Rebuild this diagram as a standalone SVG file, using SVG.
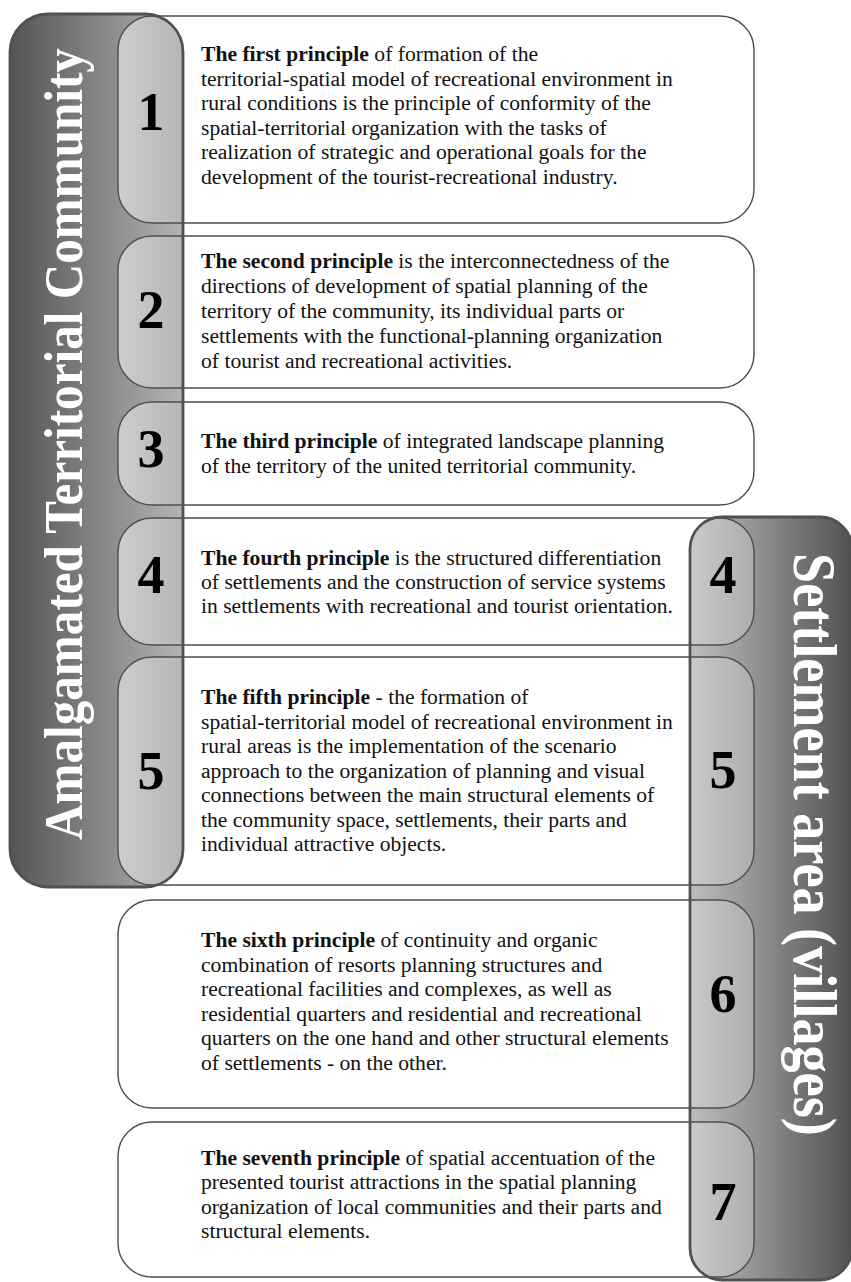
<svg xmlns="http://www.w3.org/2000/svg" width="851" height="1282" viewBox="0 0 851 1282">
<defs>
<style>
.body{font-family:"Liberation Serif","Times New Roman",serif;font-size:21.6px;fill:#111;}
.b{font-weight:bold;}
.num{font-family:"Liberation Serif","Times New Roman",serif;font-weight:bold;font-size:54px;fill:#000;text-anchor:middle;}
.bandtxt{font-family:"Liberation Serif","Times New Roman",serif;font-weight:bold;fill:#fff;}
.boxfill{fill:#fff;stroke:none;}
.boxline{fill:none;stroke:#4d4d4d;stroke-width:1.4;}
.bandline{fill:none;stroke:#505050;stroke-width:2.8;}
</style>
<linearGradient id="gL" gradientUnits="userSpaceOnUse" x1="10" y1="0" x2="183" y2="0">
<stop offset="0" stop-color="#545454"/><stop offset="1" stop-color="#b4b4b4"/>
</linearGradient>
<linearGradient id="gLp" gradientUnits="userSpaceOnUse" x1="118" y1="0" x2="183" y2="0">
<stop offset="0" stop-color="#cdcdcd"/><stop offset="1" stop-color="#b6b6b6"/>
</linearGradient>
<linearGradient id="gR" gradientUnits="userSpaceOnUse" x1="690" y1="0" x2="851" y2="0">
<stop offset="0" stop-color="#bdbdbd"/><stop offset="1" stop-color="#525252"/>
</linearGradient>
<linearGradient id="gRp" gradientUnits="userSpaceOnUse" x1="690" y1="0" x2="754" y2="0">
<stop offset="0" stop-color="#cacaca"/><stop offset="1" stop-color="#adadad"/>
</linearGradient>
<clipPath id="clipL"><rect x="10" y="14" width="173" height="873" rx="38"/></clipPath>
<clipPath id="clipR"><rect x="690" y="517" width="162" height="763" rx="32"/></clipPath>
</defs>

<g id="band-left">
<rect x="10" y="14" width="173" height="873" rx="38" fill="url(#gL)"/>
</g>
<g id="band-right">
<rect x="690" y="517" width="162" height="763" rx="32" fill="url(#gR)"/>
</g>

<g id="principle-1">
<rect class="boxfill" x="118" y="16" width="636" height="207" rx="34"/>
<rect x="118" y="16" width="636" height="207" rx="34" fill="url(#gLp)" clip-path="url(#clipL)"/>
<rect class="boxline" x="118" y="16" width="636" height="207" rx="34"/>
<text class="num" x="151" y="130">1</text>
<text class="body" x="201" y="61"><tspan class="b">The first principle</tspan> of formation of the</text>
<text class="body" x="201" y="85.5">territorial-spatial model of recreational environment in</text>
<text class="body" x="201" y="110">rural conditions is the principle of conformity of the</text>
<text class="body" x="201" y="134.5">spatial-territorial organization with the tasks of</text>
<text class="body" x="201" y="159">realization of strategic and operational goals for the</text>
<text class="body" x="201" y="183.5">development of the tourist-recreational industry.</text>
</g>

<g id="principle-2">
<rect class="boxfill" x="118" y="236" width="636" height="152" rx="34"/>
<rect x="118" y="236" width="636" height="152" rx="34" fill="url(#gLp)" clip-path="url(#clipL)"/>
<rect class="boxline" x="118" y="236" width="636" height="152" rx="34"/>
<text class="num" x="151" y="328">2</text>
<text class="body" x="201" y="268"><tspan class="b">The second principle</tspan> is the interconnectedness of the</text>
<text class="body" x="201" y="293">directions of development of spatial planning of the</text>
<text class="body" x="201" y="318">territory of the community, its individual parts or</text>
<text class="body" x="201" y="343">settlements with the functional-planning organization</text>
<text class="body" x="201" y="368">of tourist and recreational activities.</text>
</g>

<g id="principle-3">
<rect class="boxfill" x="118" y="402" width="636" height="103" rx="34"/>
<rect x="118" y="402" width="636" height="103" rx="34" fill="url(#gLp)" clip-path="url(#clipL)"/>
<rect class="boxline" x="118" y="402" width="636" height="103" rx="34"/>
<text class="num" x="151" y="467">3</text>
<text class="body" x="201" y="448"><tspan class="b">The third principle</tspan> of integrated landscape planning</text>
<text class="body" x="201" y="473">of the territory of the united territorial community.</text>
</g>

<g id="principle-4">
<rect class="boxfill" x="118" y="518" width="636" height="127" rx="34"/>
<rect x="118" y="518" width="636" height="127" rx="34" fill="url(#gLp)" clip-path="url(#clipL)"/>
<rect x="118" y="518" width="636" height="127" rx="34" fill="url(#gRp)" clip-path="url(#clipR)"/>
<rect class="boxline" x="118" y="518" width="636" height="127" rx="34"/>
<text class="num" x="151" y="593">4</text>
<text class="num" x="723" y="593">4</text>
<text class="body" x="201" y="565"><tspan class="b">The fourth principle</tspan> is the structured differentiation</text>
<text class="body" x="201" y="589">of settlements and the construction of service systems</text>
<text class="body" x="201" y="613">in settlements with recreational and tourist orientation.</text>
</g>

<g id="principle-5">
<rect class="boxfill" x="118" y="657" width="636" height="228" rx="34"/>
<rect x="118" y="657" width="636" height="228" rx="34" fill="url(#gLp)" clip-path="url(#clipL)"/>
<rect x="118" y="657" width="636" height="228" rx="34" fill="url(#gRp)" clip-path="url(#clipR)"/>
<rect class="boxline" x="118" y="657" width="636" height="228" rx="34"/>
<text class="num" x="151" y="789">5</text>
<text class="num" x="723" y="788">5</text>
<text class="body" x="201" y="704"><tspan class="b">The fifth principle</tspan> - the formation of</text>
<text class="body" x="201" y="728.5">spatial-territorial model of recreational environment in</text>
<text class="body" x="201" y="753">rural areas is the implementation of the scenario</text>
<text class="body" x="201" y="777.5">approach to the organization of planning and visual</text>
<text class="body" x="201" y="802">connections between the main structural elements of</text>
<text class="body" x="201" y="826.5">the community space, settlements, their parts and</text>
<text class="body" x="201" y="851">individual attractive objects.</text>
</g>

<g id="principle-6">
<rect class="boxfill" x="118" y="900" width="636" height="208" rx="34"/>
<rect x="118" y="900" width="636" height="208" rx="34" fill="url(#gRp)" clip-path="url(#clipR)"/>
<rect class="boxline" x="118" y="900" width="636" height="208" rx="34"/>
<text class="num" x="723" y="1012">6</text>
<text class="body" x="201" y="947"><tspan class="b">The sixth principle</tspan> of continuity and organic</text>
<text class="body" x="201" y="971.5">combination of resorts planning structures and</text>
<text class="body" x="201" y="996">recreational facilities and complexes, as well as</text>
<text class="body" x="201" y="1020.5">residential quarters and residential and recreational</text>
<text class="body" x="201" y="1045">quarters on the one hand and other structural elements</text>
<text class="body" x="201" y="1069.5">of settlements - on the other.</text>
</g>

<g id="principle-7">
<rect class="boxfill" x="118" y="1122" width="636" height="155" rx="34"/>
<rect x="118" y="1122" width="636" height="155" rx="34" fill="url(#gRp)" clip-path="url(#clipR)"/>
<rect class="boxline" x="118" y="1122" width="636" height="155" rx="34"/>
<text class="num" x="723" y="1220">7</text>
<text class="body" x="201" y="1165"><tspan class="b">The seventh principle</tspan> of spatial accentuation of the</text>
<text class="body" x="201" y="1189">presented tourist attractions in the spatial planning</text>
<text class="body" x="201" y="1213.5">organization of local communities and their parts and</text>
<text class="body" x="201" y="1238">structural elements.</text>
</g>

<g id="band-left-label">
<rect class="bandline" x="10" y="14" width="173" height="873" rx="38"/>
<text class="bandtxt" font-size="55" transform="translate(82,840) rotate(-90) scale(0.894,1)">Amalgamated Territorial Community</text>
</g>
<g id="band-right-label">
<rect class="bandline" x="690" y="517" width="162" height="763" rx="32"/>
<text class="bandtxt" font-size="62" transform="translate(794,553) rotate(90) scale(0.874,1)">Settlement area (villages)</text>
</g>
</svg>
